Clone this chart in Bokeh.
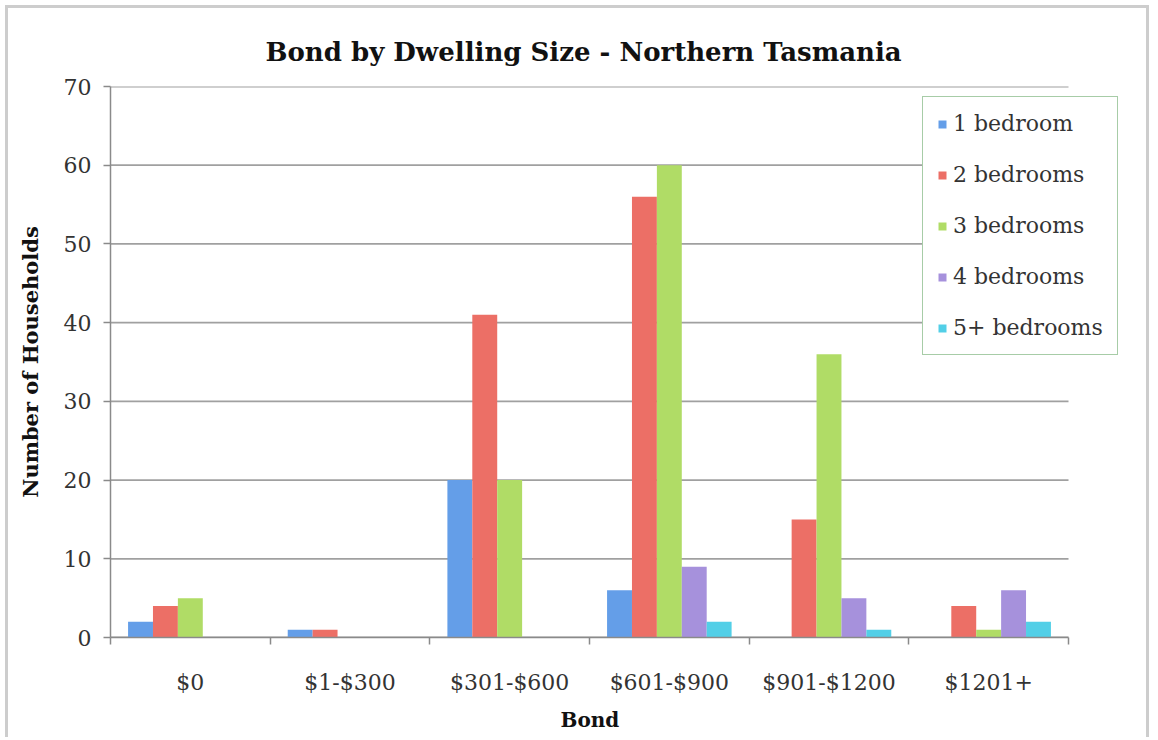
from bokeh.plotting import figure
from bokeh.models import ColumnDataSource, Range1d, FixedTicker, Title
from bokeh.transform import dodge
from bokeh.embed import file_html
from bokeh.resources import INLINE

categories = ["$0", "$1-$300", "$301-$600", "$601-$900", "$901-$1200", "$1201+"]
series_names = ["1 bedroom", "2 bedrooms", "3 bedrooms", "4 bedrooms", "5+ bedrooms"]
one_bed = [2, 1, 20, 6, 0, 0]
two_bed = [4, 1, 41, 56, 15, 4]
three_bed = [5, 0, 20, 60, 36, 1]
four_bed = [0, 0, 0, 9, 5, 6]
five_bed = [0, 0, 0, 2, 1, 2]
y_ticks = [0, 10, 20, 30, 40, 50, 60, 70]

series_values = [one_bed, two_bed, three_bed, four_bed, five_bed]
colors = ["#649ee8", "#ec6f66", "#b0dc66", "#a691dc", "#52cfe7"]

SERIF = "DejaVu Serif"
n = len(categories)

# frame extends to the right past the last category so the legend (which sits
# partly outside the category area in the reference) is not clipped
p = figure(width=1144, height=732, output_backend="svg", toolbar_location=None,
           x_range=Range1d(0, n * 1022 / 958), y_range=Range1d(0, 70),
           min_border_left=102, min_border_right=20, min_border_top=78, min_border_bottom=102)
p.styles = {"border-left": "3px solid #cdcdcd", "border-top": "3px solid #cdcdcd",
            "border-right": "3px solid #cdcdcd", "margin-left": "5px", "margin-top": "5px"}

# horizontal gridlines across the category area only
p.segment(x0=[0] * len(y_ticks), x1=[n] * len(y_ticks), y0=y_ticks, y1=y_ticks,
          line_color="#a0a0a0", line_width=1.8)

centers = [i + 0.5 for i in range(n)]
bw = 0.156
for k, (name, vals) in enumerate(zip(series_names, series_values)):
    src = ColumnDataSource(dict(x=centers, top=vals))
    p.vbar(x=dodge("x", (k - 2) * bw, range=p.x_range), top="top", width=bw, source=src,
           fill_color=colors[k], line_color=None, legend_label=name)

p.title.text = "Bond by Dwelling Size - Northern Tasmania"
p.title.align = "left"
p.title.offset = 155
p.title.text_font = SERIF
p.title.text_font_size = "26px"
p.title.text_font_style = "bold"
p.title.text_color = "#111111"
p.title.standoff = 39

p.outline_line_color = None
p.background_fill_color = "white"
p.border_fill_color = "white"
p.xgrid.grid_line_color = None
p.ygrid.grid_line_color = None

# x axis
p.xaxis.bounds = (0, n)
p.xaxis.ticker = FixedTicker(ticks=centers, minor_ticks=list(range(n + 1)))
p.xaxis.major_label_overrides = {c: lab for c, lab in zip(centers, categories)}
p.xaxis.major_tick_out = 0
p.xaxis.major_tick_in = 0
p.xaxis.minor_tick_out = 7
p.xaxis.minor_tick_in = 0
p.xaxis.minor_tick_line_color = "#8a8a8a"
p.xaxis.minor_tick_line_width = 1.5
p.xaxis.axis_line_color = "#8a8a8a"
p.xaxis.axis_line_width = 1.5
p.xaxis.major_label_standoff = 25

xlabel = Title(text="Bond", align="left", offset=450, text_font=SERIF,
               text_font_size="20px", text_font_style="bold", text_color="#111111",
               standoff=17)
p.add_layout(xlabel, "below")

# y axis
p.yaxis.ticker = FixedTicker(ticks=y_ticks)
p.yaxis.major_tick_out = 7
p.yaxis.major_tick_in = 0
p.yaxis.minor_tick_line_color = None
p.yaxis.major_tick_line_color = "#8a8a8a"
p.yaxis.major_tick_line_width = 1.5
p.yaxis.axis_line_color = "#8a8a8a"
p.yaxis.axis_line_width = 1.5
p.yaxis.major_label_standoff = 12
p.yaxis.axis_label = "Number of Households"
p.yaxis.axis_label_standoff = 18
p.yaxis.axis_label_text_font = SERIF
p.yaxis.axis_label_text_font_size = "21px"
p.yaxis.axis_label_text_font_style = "bold"
p.yaxis.axis_label_text_color = "#111111"

for ax in (p.xaxis, p.yaxis):
    ax.major_label_text_font = SERIF
    ax.major_label_text_font_size = "22px"
    ax.major_label_text_color = "#333333"

lg = p.legend[0]
lg.location = (812, 282)
lg.border_line_color = "#4f9a50"
lg.border_line_width = 1.8
lg.background_fill_color = "white"
lg.background_fill_alpha = 1
lg.label_text_font = SERIF
lg.label_text_font_size = "22px"
lg.label_text_color = "#333333"
lg.glyph_width = 10
lg.glyph_height = 10
lg.label_standoff = 6
lg.spacing = 26
lg.padding = 14
lg.margin = 0
lg.label_width = 150

open("out.html", "w").write(file_html(p, INLINE))
